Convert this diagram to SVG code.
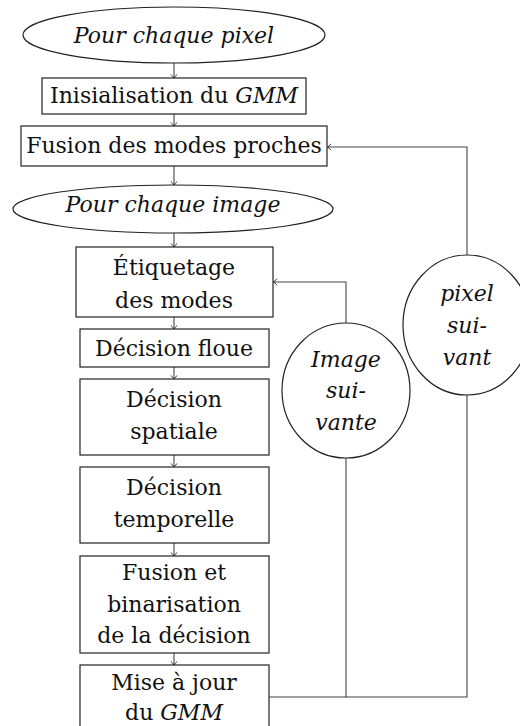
<svg xmlns="http://www.w3.org/2000/svg" width="520" height="726" viewBox="0 0 520 726">
<style>
.n{fill:#fff;stroke:#222;stroke-width:1.2}
.t{font-family:'DejaVu Serif',serif;font-size:22px;text-anchor:middle;fill:#111}
.i{font-style:italic}
.c{fill:none;stroke:#444;stroke-width:1.1}
</style>
<defs>
<marker id="a" markerUnits="userSpaceOnUse" markerWidth="10" markerHeight="10" refX="0" refY="0" viewBox="-6 -5 8 10" orient="auto">
<path d="M-3.5,-3.2 Q-1.5,-0.8 0,0 Q-1.5,0.8 -3.5,3.2" fill="none" stroke="#222" stroke-width="0.9"/>
</marker>
</defs>
<rect width="520" height="726" fill="#fff"/>
<g id="connectors">
<path class="c" d="M174,63V78" marker-end="url(#a)"/>
<path class="c" d="M174,114V126" marker-end="url(#a)"/>
<path class="c" d="M174,166V185" marker-end="url(#a)"/>
<path class="c" d="M174,233V247" marker-end="url(#a)"/>
<path class="c" d="M174,317V329" marker-end="url(#a)"/>
<path class="c" d="M174,367V379" marker-end="url(#a)"/>
<path class="c" d="M174,455V467" marker-end="url(#a)"/>
<path class="c" d="M174,543V556" marker-end="url(#a)"/>
<path class="c" d="M174,653V665" marker-end="url(#a)"/>
<path class="c" d="M269,697H346V458"/>
<path class="c" d="M346,323V282H273.5" marker-end="url(#a)"/>
<path class="c" d="M346,697H467V395"/>
<path class="c" d="M467,255V147H327.5" marker-end="url(#a)"/>
</g>
<g id="n1"><ellipse class="n" cx="174" cy="35" rx="151" ry="28"/><text class="t i" x="174" y="43">Pour chaque pixel</text></g>
<g id="n2"><rect class="n" x="42" y="78" width="264" height="36"/><text class="t" x="174" y="103">Inisialisation du <tspan class="i">GMM</tspan></text></g>
<g id="n3"><rect class="n" x="21" y="126" width="306" height="40"/><text class="t" x="174" y="153">Fusion des modes proches</text></g>
<g id="n4"><ellipse class="n" cx="173" cy="209" rx="160" ry="24"/><text class="t i" x="173" y="212">Pour chaque image</text></g>
<g id="n5"><rect class="n" x="76" y="247" width="197" height="70"/><text class="t" x="174" y="275">Étiquetage</text><text class="t" x="174" y="308">des modes</text></g>
<g id="n6"><rect class="n" x="80" y="329" width="189" height="38"/><text class="t" x="174" y="356">Décision floue</text></g>
<g id="n7"><rect class="n" x="80" y="379" width="189" height="76"/><text class="t" x="174" y="407">Décision</text><text class="t" x="174" y="439">spatiale</text></g>
<g id="n8"><rect class="n" x="80" y="467" width="189" height="76"/><text class="t" x="174" y="495">Décision</text><text class="t" x="174" y="527">temporelle</text></g>
<g id="n9"><rect class="n" x="80" y="556" width="189" height="97"/><text class="t" x="174" y="580">Fusion et</text><text class="t" x="174" y="612">binarisation</text><text class="t" x="174" y="643">de la décision</text></g>
<g id="n10"><rect class="n" x="80" y="665" width="189" height="80"/><text class="t" x="174" y="690">Mise à jour</text><text class="t" x="174" y="720">du <tspan class="i">GMM</tspan></text></g>
<g id="n11"><ellipse class="n" cx="346" cy="390.5" rx="64" ry="67.5"/><text class="t i" x="346" y="367">Image</text><text class="t i" x="346" y="398">sui-</text><text class="t i" x="346" y="430">vante</text></g>
<g id="n12"><ellipse class="n" cx="467" cy="325" rx="64" ry="70"/><text class="t i" x="467" y="301">pixel</text><text class="t i" x="467" y="333">sui-</text><text class="t i" x="467" y="365">vant</text></g>
</svg>
